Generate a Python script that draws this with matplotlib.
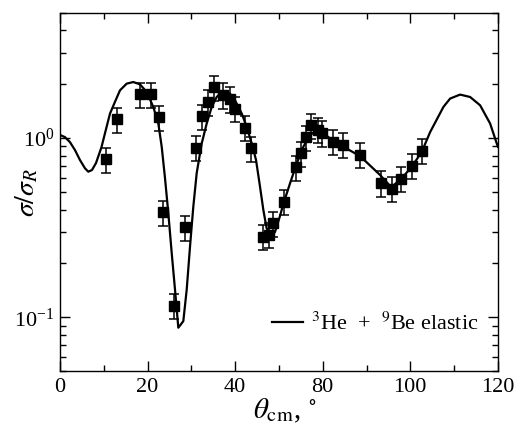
import matplotlib
matplotlib.use("Agg")
import matplotlib.pyplot as plt
from matplotlib.ticker import LogLocator, NullFormatter, FixedLocator

plt.rcParams['font.family'] = ['Liberation Serif', 'DejaVu Serif']
plt.rcParams['mathtext.fontset'] = 'stix'

# Experimental data (axis units, 0..120 linear)
exp_theta = [12.5, 15.7, 22.0, 25.0, 27.2, 28.1, 31.2, 34.3, 37.3, 38.9, 40.5, 42.1,
             44.8, 46.5, 48.0, 50.8, 52.3, 55.6, 57.4, 58.4, 61.4, 64.6, 66.0, 67.4,
             68.9, 70.7, 71.7, 74.8, 77.6, 82.2, 87.9, 90.9, 93.5, 96.4, 99.1]
exp_ratio = [0.761, 1.275, 1.756, 1.756, 1.308, 0.385, 0.1166, 0.319, 0.883, 1.325, 1.591, 1.92,
             1.74, 1.653, 1.462, 1.144, 0.877, 0.282, 0.289, 0.336, 0.443, 0.687, 0.825, 1.013,
             1.181, 1.115, 1.069, 0.956, 0.920, 0.810, 0.562, 0.523, 0.594, 0.703, 0.852]
rel_err = 0.16

# Theory curve
th_theta = [0.14, 1.37, 2.74, 4.11, 5.48, 6.85, 7.76, 8.77, 9.87, 11.38, 12.34, 13.71,
            15.08, 16.45, 18.28, 20.09, 21.93, 23.77, 25.58, 26.95, 27.88, 28.78, 29.69,
            30.62, 31.52, 32.43, 33.80, 34.73, 35.64, 36.54, 37.47, 38.84, 40.21, 41.58,
            42.95, 44.33, 45.23, 46.60, 47.97, 49.81, 51.18, 52.55, 53.73, 54.82, 55.73,
            56.61, 57.84, 58.93, 60.31, 61.21, 63.05, 64.88, 66.69, 68.53, 70.37, 71.74,
            74.01, 77.66, 82.24, 87.72, 90.46, 91.37, 93.67, 96.41, 99.15, 101.43, 105.07,
            106.91, 109.65, 112.39, 115.13, 117.87, 120.0]
th_ratio = [1.039, 1.013, 0.950, 0.858, 0.755, 0.679, 0.650, 0.664, 0.726, 0.891, 1.066, 1.371,
            1.595, 1.848, 2.013, 2.055, 1.995, 1.808, 1.492, 1.207, 0.895, 0.599, 0.382,
            0.2288, 0.1431, 0.0877, 0.0954, 0.1431, 0.249, 0.415, 0.639, 0.934, 1.207, 1.492,
            1.696, 1.808, 1.824, 1.771, 1.626, 1.371, 1.155, 0.934, 0.755, 0.536, 0.398,
            0.316, 0.282, 0.300, 0.369, 0.430, 0.560, 0.723, 0.895, 1.039, 1.108, 1.084,
            0.996, 0.895, 0.794, 0.623, 0.541, 0.545, 0.597, 0.693, 0.839, 1.080, 1.492,
            1.662, 1.749, 1.696, 1.525, 1.207, 0.895]

xtick_vals = [0, 24, 48, 72, 96, 120]
xtick_labels = ['0', '20', '40', '80', '100', '120']
legend_label = r'$^{3}$He  +  $^{9}$Be elastic'

fig = plt.figure(figsize=(5.17, 4.26), dpi=100)
ax = fig.add_axes([0.116, 0.128, 0.847, 0.842])

line, = ax.plot(th_theta, th_ratio, color='black', lw=1.6, label=legend_label)
yerr_lo = [v * rel_err for v in exp_ratio]
yerr_hi = [v * rel_err for v in exp_ratio]
ax.errorbar(exp_theta, exp_ratio, yerr=[yerr_lo, yerr_hi], fmt='s', color='black',
            ms=7.5, capsize=3.5, elinewidth=1.1, capthick=1.1)

ax.set_yscale('log')
ax.set_xlim(0, 120)
ax.set_ylim(0.05, 5)
ax.set_xticks(xtick_vals)
ax.set_xticklabels(xtick_labels)
ax.xaxis.set_minor_locator(FixedLocator([12, 36, 60, 84, 108]))
ax.yaxis.set_major_locator(LogLocator(base=10, numticks=10))
ax.yaxis.set_minor_locator(LogLocator(base=10, subs=range(2, 10), numticks=20))
ax.yaxis.set_minor_formatter(NullFormatter())

ax.tick_params(which='both', direction='in', top=True, right=True, width=1.0, labelsize=16)
ax.tick_params(which='major', length=7)
ax.tick_params(which='minor', length=4)
ax.tick_params(axis='x', pad=5)
ax.tick_params(axis='y', pad=4)
for s in ax.spines.values():
    s.set_linewidth(1.0)

ax.set_xlabel(r'$\theta_{\rm cm}$, $^{\circ}$', fontsize=21)
ax.xaxis.set_label_coords(0.513, -0.07)
ax.set_ylabel(r'$\sigma/\sigma_R$', fontsize=20)
ax.yaxis.set_label_coords(-0.045, 0.5)

leg = ax.legend(handles=[line], loc='center right', frameon=False, fontsize=16,
                handlelength=1.4, handletextpad=0.35, borderaxespad=0,
                bbox_to_anchor=(0.975, 0.133))

fig.savefig('out.png', dpi=100)
